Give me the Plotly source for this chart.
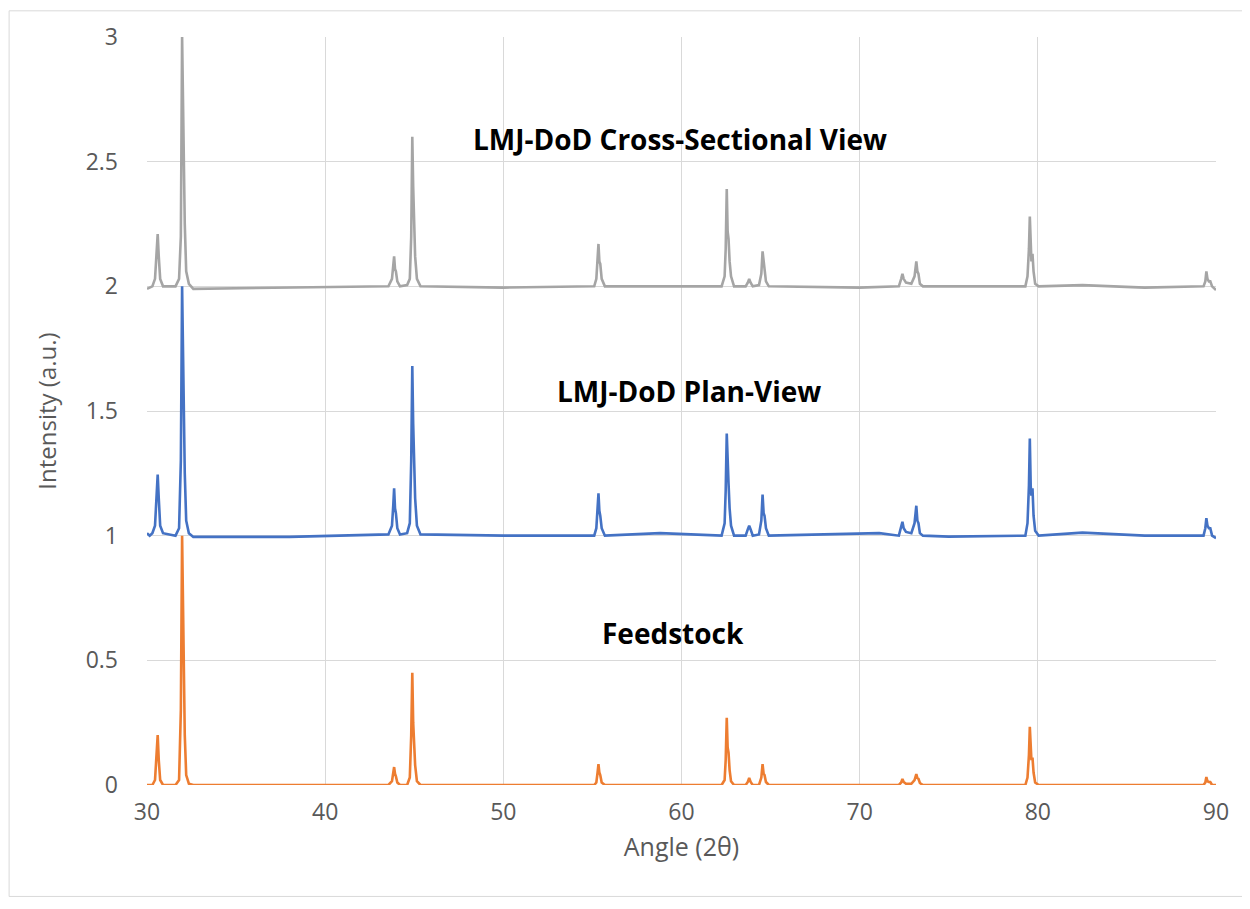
import plotly.graph_objects as go

# ---- data: (angle 2θ, intensity a.u.) ----
gray_points = [
    (30.0, 1.99), (30.3, 2.0), (30.45, 2.03), (30.53, 2.12), (30.6, 2.21), (30.66, 2.12), (30.74, 2.03), (30.9, 2.0),
    (31.6, 2.0), (31.8, 2.03), (31.9, 2.2), (31.97, 3.0), (32.03, 2.7), (32.06, 2.5), (32.12, 2.25), (32.2, 2.06),
    (32.35, 2.01), (32.6, 1.99), (38.0, 1.995), (43.55, 2.0), (43.75, 2.03), (43.82, 2.08), (43.87, 2.12),
    (43.92, 2.07), (43.97, 2.06), (44.05, 2.02), (44.2, 2.0), (44.6, 2.005), (44.75, 2.03), (44.83, 2.2),
    (44.89, 2.6), (44.94, 2.4), (44.98, 2.31), (45.05, 2.12), (45.15, 2.03), (45.35, 2.0), (50.0, 1.995),
    (55.1, 2.0), (55.22, 2.03), (55.29, 2.1), (55.34, 2.17), (55.39, 2.1), (55.44, 2.09), (55.52, 2.03), (55.7, 2.0),
    (62.25, 2.0), (62.42, 2.04), (62.48, 2.15), (62.54, 2.39), (62.59, 2.22), (62.64, 2.19), (62.7, 2.1),
    (62.78, 2.04), (62.95, 2.0), (63.6, 2.0), (63.72, 2.015), (63.8, 2.03), (63.88, 2.015), (64.0, 2.0),
    (64.35, 2.005), (64.48, 2.05), (64.55, 2.14), (64.61, 2.08), (64.66, 2.07), (64.74, 2.02), (64.9, 2.0),
    (70.0, 1.995), (72.2, 2.0), (72.33, 2.03), (72.4, 2.05), (72.47, 2.03), (72.6, 2.015), (72.9, 2.01),
    (73.08, 2.04), (73.18, 2.1), (73.24, 2.06), (73.3, 2.05), (73.38, 2.01), (73.55, 2.0),
    (79.3, 2.0), (79.42, 2.04), (79.5, 2.15), (79.55, 2.28), (79.6, 2.12), (79.64, 2.1), (79.7, 2.13),
    (79.76, 2.06), (79.85, 2.01), (80.05, 2.0), (82.5, 2.005), (86.0, 1.995), (89.3, 2.0), (89.4, 2.02),
    (89.46, 2.06), (89.52, 2.03), (89.6, 2.02), (89.68, 2.02), (89.78, 2.0), (89.9, 1.99), (90.0, 1.985),
]

blue_points = [
    (30.0, 1.01), (30.15, 1.0), (30.3, 1.01), (30.45, 1.04), (30.53, 1.15), (30.6, 1.245), (30.66, 1.15),
    (30.74, 1.04), (30.9, 1.01), (31.6, 1.0), (31.8, 1.03), (31.9, 1.3), (31.97, 2.0), (32.03, 1.7),
    (32.06, 1.52), (32.12, 1.25), (32.2, 1.06), (32.35, 1.01), (32.6, 0.995), (38.0, 0.995),
    (43.55, 1.005), (43.75, 1.04), (43.82, 1.12), (43.87, 1.19), (43.92, 1.11), (43.97, 1.09), (44.05, 1.03),
    (44.2, 1.005), (44.6, 1.01), (44.75, 1.05), (44.83, 1.3), (44.89, 1.68), (44.94, 1.45), (44.98, 1.36),
    (45.05, 1.15), (45.15, 1.04), (45.35, 1.005), (50.0, 1.0), (55.1, 1.0), (55.22, 1.03), (55.29, 1.1),
    (55.34, 1.17), (55.39, 1.1), (55.44, 1.08), (55.52, 1.03), (55.7, 1.0), (58.8, 1.01),
    (62.25, 1.0), (62.42, 1.05), (62.48, 1.18), (62.54, 1.41), (62.59, 1.24), (62.64, 1.21), (62.7, 1.11),
    (62.78, 1.04), (62.95, 1.0), (63.6, 1.0), (63.72, 1.025), (63.8, 1.04), (63.88, 1.025), (64.0, 1.0),
    (64.35, 1.005), (64.48, 1.06), (64.55, 1.165), (64.61, 1.09), (64.66, 1.08), (64.74, 1.03), (64.9, 1.0),
    (71.1, 1.01), (72.2, 1.0), (72.33, 1.03), (72.4, 1.056), (72.47, 1.03), (72.6, 1.015), (72.9, 1.01),
    (73.08, 1.05), (73.18, 1.12), (73.24, 1.06), (73.3, 1.05), (73.38, 1.01), (73.55, 1.0), (75.0, 0.996),
    (79.3, 1.0), (79.42, 1.05), (79.5, 1.2), (79.55, 1.39), (79.6, 1.2), (79.64, 1.16), (79.7, 1.19),
    (79.76, 1.08), (79.85, 1.02), (80.05, 1.0), (82.5, 1.012), (86.0, 1.0), (89.3, 1.0), (89.4, 1.03),
    (89.46, 1.07), (89.52, 1.04), (89.6, 1.03), (89.68, 1.03), (89.78, 1.0), (89.9, 0.995), (90.0, 0.99),
]

orange_points = [
    (30.0, 0.0), (30.3, 0.0), (30.45, 0.02), (30.53, 0.1), (30.6, 0.2), (30.66, 0.1), (30.74, 0.02), (30.9, 0.0),
    (31.6, 0.0), (31.8, 0.02), (31.9, 0.3), (31.97, 1.0), (32.03, 0.7), (32.06, 0.49), (32.12, 0.2), (32.2, 0.04),
    (32.35, 0.005), (32.6, 0.0), (43.55, 0.0), (43.75, 0.015), (43.82, 0.05), (43.87, 0.072), (43.92, 0.045),
    (43.97, 0.035), (44.05, 0.01), (44.2, 0.0), (44.6, 0.0), (44.75, 0.03), (44.83, 0.2), (44.89, 0.45),
    (44.94, 0.25), (44.98, 0.19), (45.05, 0.08), (45.15, 0.015), (45.35, 0.0), (55.1, 0.0), (55.22, 0.01),
    (55.29, 0.05), (55.34, 0.084), (55.39, 0.05), (55.44, 0.04), (55.52, 0.01), (55.7, 0.0),
    (62.25, 0.0), (62.42, 0.02), (62.48, 0.1), (62.54, 0.27), (62.59, 0.15), (62.64, 0.13), (62.7, 0.06),
    (62.78, 0.015), (62.95, 0.0), (63.6, 0.0), (63.72, 0.012), (63.8, 0.028), (63.88, 0.012), (64.0, 0.0),
    (64.35, 0.0), (64.48, 0.03), (64.55, 0.084), (64.61, 0.045), (64.66, 0.04), (64.74, 0.012), (64.9, 0.0),
    (72.2, 0.0), (72.33, 0.01), (72.4, 0.024), (72.47, 0.012), (72.6, 0.005), (72.9, 0.005), (73.08, 0.02),
    (73.18, 0.044), (73.24, 0.028), (73.3, 0.025), (73.38, 0.008), (73.55, 0.0), (79.3, 0.0), (79.42, 0.03),
    (79.5, 0.12), (79.55, 0.233), (79.6, 0.12), (79.64, 0.1), (79.7, 0.11), (79.76, 0.05), (79.85, 0.01),
    (80.05, 0.0), (89.3, 0.0), (89.4, 0.01), (89.46, 0.032), (89.52, 0.015), (89.6, 0.012), (89.68, 0.012),
    (89.78, 0.0), (90.0, 0.0),
]

labels = ["LMJ-DoD Cross-Sectional View", "LMJ-DoD Plan-View", "Feedstock"]
label_x = [59.9, 60.4, 59.5]
label_y = [2.59, 1.58, 0.61]

x_ticks = [30, 40, 50, 60, 70, 80, 90]
y_ticks = [0, 0.5, 1, 1.5, 2, 2.5, 3]
y_tick_text = ["0", "0.5", "1", "1.5", "2", "2.5", "3"]

fig = go.Figure()
for pts, col, name in [(orange_points, "#ED7D31", "Feedstock"),
                       (blue_points, "#4472C4", "Plan-View"),
                       (gray_points, "#A5A5A5", "Cross-Sectional")]:
    xs = [p[0] for p in pts]
    ys = [p[1] for p in pts]
    fig.add_trace(go.Scatter(x=xs, y=ys, mode="lines", name=name,
                             line=dict(color=col, width=2.6), showlegend=False))

for t, ax_, ay_ in zip(labels, label_x, label_y):
    fig.add_annotation(x=ax_, y=ay_, text="<b>" + t + "</b>", showarrow=False,
                       font=dict(family="Open Sans", size=28, color="#000000"))

# outer chart border
fig.add_shape(type="rect", xref="paper", yref="paper", x0=-0.129, x1=1.025, y0=-0.149, y1=1.035,
              line=dict(color="#D9D9D9", width=1))

fig.update_layout(
    width=1250, height=909,
    margin=dict(l=139, r=42, t=27, b=132),
    paper_bgcolor="white", plot_bgcolor="white",
    font=dict(family="Open Sans", color="#595959"),
    xaxis=dict(range=[30, 90], tickvals=x_ticks, showgrid=True, gridcolor="#D9D9D9", gridwidth=1,
               zeroline=False, showline=False, ticks="", tickfont=dict(size=23), ticklabelstandoff=11,
               title=dict(text="Angle (2θ)", font=dict(size=25), standoff=12)),
    yaxis=dict(range=[0, 3], tickvals=y_ticks, ticktext=y_tick_text, showgrid=True,
               gridcolor="#D9D9D9", gridwidth=1, zeroline=False, showline=False, ticks="",
               tickfont=dict(size=23), ticklabelstandoff=28,
               title=dict(text="Intensity (a.u.)", font=dict(size=24), standoff=22)),
)
fig.write_html("out.html")
